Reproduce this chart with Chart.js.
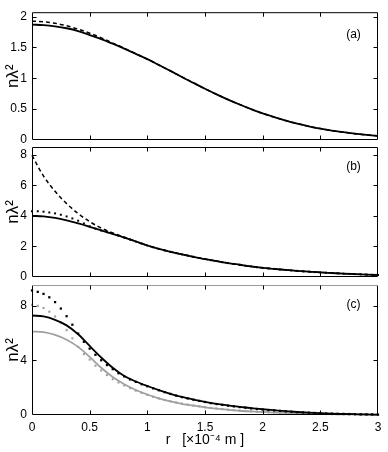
<!DOCTYPE html>
<html><head><meta charset="utf-8">
<script src="https://cdn.jsdelivr.net/npm/chart.js@4"></script>
<style>
html,body{margin:0;padding:0;background:#fff;}
#wrap{position:relative;width:388px;height:452px;background:#fff;}
canvas{position:absolute;left:0;top:0;}
</style></head><body>
<div id="wrap">
<canvas id="ca" width="388" height="452"></canvas>
<canvas id="cb" width="388" height="452"></canvas>
<canvas id="cc" width="388" height="452"></canvas>
</div>
<script>
// ---------- data ----------
const rLine = [0,0.1,0.2,0.3,0.4,0.5,0.6,0.7,0.8,0.9,1,1.1,1.2,1.3,1.4,1.5,1.6,1.7,1.8,1.9,2,2.1,2.2,2.3,2.4,2.5,2.6,2.7,2.8,2.9,3];
const rDots = [0,0.05,0.1,0.15,0.2,0.25,0.3,0.35,0.4,0.45,0.5,0.55,0.6,0.65,0.7,0.75,0.8,0.85,0.9,0.95,1,1.05,1.1,1.15,1.2,1.25,1.3,1.35,1.4,1.45,1.5,1.55,1.6,1.65,1.7,1.75,1.8,1.85,1.9,1.95,2,2.05,2.1,2.15,2.2,2.25,2.3,2.35,2.4,2.45,2.5,2.55,2.6,2.65,2.7,2.75,2.8,2.85,2.9,2.95,3];

// panel (a)
const aSolid  = [1.87,1.86,1.84,1.81,1.765,1.70,1.635,1.56,1.48,1.395,1.31,1.215,1.12,1.02,0.925,0.83,0.74,0.655,0.575,0.50,0.43,0.37,0.315,0.265,0.222,0.185,0.153,0.126,0.103,0.083,0.066];
const aDashed = [1.925,1.915,1.89,1.85,1.795,1.73,1.655,1.57,1.487,1.398,1.31,1.215,1.12,1.02,0.925,0.83,0.74,0.655,0.575,0.50,0.43,0.37,0.315,0.265,0.222,0.185,0.153,0.126,0.103,0.083,0.066];

// panel (b)
const bSolid  = [4.0,3.96,3.86,3.70,3.50,3.28,3.05,2.82,2.58,2.32,2.06,1.84,1.65,1.48,1.32,1.17,1.04,0.91,0.80,0.69,0.60,0.53,0.46,0.40,0.35,0.30,0.26,0.22,0.19,0.16,0.13];
const bDashed = [7.95,6.6,5.6,4.8,4.15,3.62,3.2,2.88,2.6,2.33,2.06,1.84,1.65,1.48,1.32,1.17,1.04,0.91,0.80,0.69,0.60,0.53,0.46,0.40,0.35,0.30,0.26,0.22,0.19,0.16,0.13];
const bDotted = [4.3,4.3,4.27,4.22,4.16,4.07,3.96,3.83,3.68,3.5,3.32,3.16,3.04,2.93,2.82,2.70,2.58,2.45,2.32,2.19,2.06,1.95,1.84,1.74,1.65,1.56,1.48,1.40,1.32,1.24,1.17,1.10,1.04,0.97,0.91,0.85,0.80,0.74,0.69,0.64,0.60,0.56,0.53,0.49,0.46,0.43,0.40,0.37,0.35,0.32,0.30,0.28,0.26,0.24,0.22,0.20,0.19,0.17,0.16,0.14,0.13];

// panel (c)
const cBlack = [7.27,7.2,6.95,6.55,5.9,5.05,4.2,3.45,2.85,2.45,2.12,1.82,1.55,1.32,1.13,0.96,0.82,0.70,0.60,0.50,0.42,0.35,0.28,0.22,0.17,0.13,0.10,0.08,0.06,0.04,0.03];
const cGray  = [6.1,6.05,5.85,5.5,4.98,4.25,3.45,2.78,2.25,1.83,1.5,1.22,1.0,0.82,0.68,0.56,0.46,0.38,0.31,0.26,0.22,0.18,0.15,0.12,0.10,0.08,0.06,0.05,0.04,0.03,0.02];
const cBlackDots = [9.1,9.0,8.85,8.6,8.25,7.78,7.22,6.6,5.95,5.35,4.85,4.4,4.0,3.65,3.35,3.05,2.82,2.6,2.42,2.25,2.1,1.95,1.81,1.67,1.54,1.42,1.31,1.21,1.12,1.03,0.95,0.87,0.80,0.74,0.68,0.63,0.58,0.53,0.48,0.44,0.40,0.36,0.33,0.30,0.27,0.24,0.21,0.19,0.17,0.15,0.13,0.11,0.10,0.09,0.08,0.07,0.06,0.05,0.04,0.04,0.03];
const cGrayDots  = [8.05,7.98,7.82,7.55,7.2,6.75,6.2,5.6,4.98,4.45,4.05,3.6,3.25,2.92,2.62,2.38,2.16,1.96,1.78,1.62,1.47,1.33,1.21,1.1,1.0,0.91,0.83,0.76,0.69,0.63,0.57,0.52,0.47,0.43,0.39,0.35,0.32,0.29,0.26,0.24,0.22,0.20,0.18,0.16,0.15,0.13,0.12,0.11,0.10,0.09,0.08,0.07,0.06,0.06,0.05,0.05,0.04,0.04,0.03,0.03,0.02];

// ticks & labels
const xTicks = [0,0.5,1,1.5,2,2.5,3];
const xTickLabels = ['0','0.5','1','1.5','2','2.5','3'];
const aYTicks = [0,0.5,1,1.5,2];
const aYTickLabels = ['0','0.5','1','1.5','2'];
const bYTicks = [0,2,4,6,8];
const bYTickLabels = ['0','2','4','6','8'];
const cYTicks = [0,4,8];
const cYTickLabels = ['0','4','8'];
const panelLabels = ['(a)','(b)','(c)'];
const xTitle = 'r   [\u00d710\u207b\u2074 m ]';
const yTitle = 'n\u03bb\u00b2';

// ---------- rendering ----------
const FAMILY = "'Liberation Sans', Arial, Helvetica, sans-serif";
Chart.defaults.font.family = FAMILY;
Chart.defaults.color = '#000';

const pts = (xs, ys) => xs.map((x, i) => ({x: x, y: ys[i]}));

function line(xs, ys, color, width, dash) {
  return { data: pts(xs, ys), showLine: true, borderColor: color, borderWidth: width, borderDash: dash || [],
    pointRadius: 0, fill: false, cubicInterpolationMode: 'monotone', clip: 4 };
}
function dots(xs, ys, color, r) {
  return { data: pts(xs, ys), showLine: false, pointStyle: 'rect', pointRadius: r,
    pointBackgroundColor: color, pointBorderWidth: 0, borderColor: color, clip: 4 };
}

const framePlugin = {
  id: 'frame',
  afterDatasetsDraw(chart, args, o) {
    const {ctx, chartArea: a} = chart;
    const xs = chart.scales.x, ys = chart.scales.y;
    const L = a.left + 0.5, R = a.right - 0.5, T = a.top + 0.5, B = a.bottom - 0.5;
    ctx.save();
    ctx.lineWidth = 1;
    ctx.strokeStyle = '#000';
    ctx.beginPath();
    ctx.moveTo(L, T); ctx.lineTo(L, B); ctx.lineTo(R, B); ctx.lineTo(R, T);
    ctx.stroke();
    ctx.strokeStyle = o.topColor || '#000';
    ctx.beginPath(); ctx.moveTo(L, T); ctx.lineTo(R, T); ctx.stroke();
    ctx.strokeStyle = '#000';
    const tl = 4;
    ctx.beginPath();
    xs.ticks.forEach(t => {
      if (t.value <= xs.min || t.value >= xs.max) return;
      const px = Math.round(xs.getPixelForValue(t.value)) + 0.5;
      ctx.moveTo(px, B); ctx.lineTo(px, B - tl);
      ctx.moveTo(px, T); ctx.lineTo(px, T + tl);
    });
    ys.ticks.forEach(t => {
      if (t.value <= ys.min || t.value >= ys.max) return;
      const py = Math.round(ys.getPixelForValue(t.value)) + 0.5;
      ctx.moveTo(L, py); ctx.lineTo(L + tl, py);
      ctx.moveTo(R, py); ctx.lineTo(R - tl, py);
    });
    ctx.stroke();
    ctx.fillStyle = '#000';
    ctx.font = '12px ' + FAMILY;
    ctx.textAlign = 'center';
    ctx.textBaseline = 'middle';
    ctx.fillText(o.label, a.left + o.lx, a.top + o.ly);
    ctx.restore();
  }
};

function makeChart(id, p) {
  return new Chart(document.getElementById(id), {
    type: 'scatter',
    data: { datasets: p.datasets },
    plugins: [framePlugin],
    options: {
      responsive: false, animation: false, events: [],
      layout: { padding: { top: p.top, bottom: p.bottom, left: 0, right: 10 } },
      plugins: {
        legend: { display: false }, tooltip: { enabled: false },
        frame: { label: p.label, lx: 321.5, ly: p.ly, topColor: p.topColor }
      },
      scales: {
        x: {
          type: 'linear', min: 0, max: 3,
          grid: { display: false, drawTicks: false }, border: { display: false },
          afterBuildTicks: s => { s.ticks = xTicks.map(v => ({value: v})); },
          ticks: { display: p.xLabels, padding: 5, color: '#000', maxRotation: 0, autoSkip: false,
                   font: { size: 12 }, callback: (v, i) => xTickLabels[i] },
          title: { display: p.xLabels, text: xTitle, color: '#000', font: { size: 14 },
                   padding: { top: 0, bottom: 3 } },
          afterFit: s => { s.height = p.xh; }
        },
        y: {
          type: 'linear', min: 0, max: p.ymax,
          grid: { display: false, drawTicks: false }, border: { display: false },
          afterBuildTicks: s => { s.ticks = p.yTicks.map(v => ({value: v})); },
          ticks: { padding: 5, color: '#000', font: { size: 12 }, autoSkip: false,
                   callback: (v, i) => p.yLabels[i] },
          title: { display: true, text: yTitle, color: '#000', font: { size: 17 },
                   padding: { top: 3, bottom: 0 } },
          afterFit: s => { s.width = 32; }
        }
      }
    }
  });
}

makeChart('ca', {
  top: 6, bottom: 452 - 140, xh: 0, xLabels: false, ymax: 2.07,
  yTicks: aYTicks, yLabels: aYTickLabels, label: panelLabels[0], ly: 22.5,
  datasets: [
    line(rLine, aSolid, '#000', 1.8),
    line(rLine, aDashed, '#000', 1.5, [4, 3])
  ]
});
makeChart('cb', {
  top: 147, bottom: 452 - 277, xh: 0, xLabels: false, ymax: 8.5,
  yTicks: bYTicks, yLabels: bYTickLabels, label: panelLabels[1], ly: 20,
  datasets: [
    line(rLine, bSolid, '#000', 1.8),
    line(rLine, bDashed, '#000', 1.5, [4, 3]),
    dots(rDots, bDotted, '#000', 1.4)
  ]
});
makeChart('cc', {
  top: 285, bottom: 0, xh: 37, xLabels: true, ymax: 9.5,
  yTicks: cYTicks, yLabels: cYTickLabels, label: panelLabels[2], ly: 19.5, topColor: '#999',
  datasets: [
    line(rLine, cBlack, '#000', 1.8),
    dots(rDots, cBlackDots, '#000', 1.6),
    line(rLine, cGray, '#a0a0a0', 1.8),
    dots(rDots, cGrayDots, '#a0a0a0', 1.5)
  ]
});
</script>
</body></html>
